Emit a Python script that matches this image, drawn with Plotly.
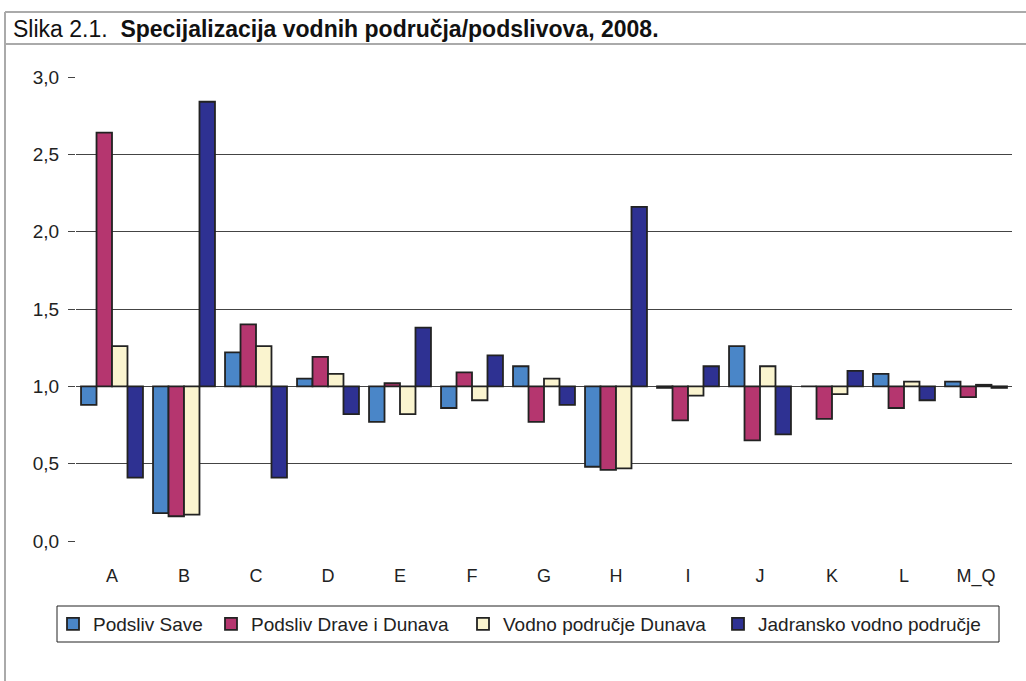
import plotly.graph_objects as go

# categories (NKD sections) and specialisation index per basin
categories = ["A", "B", "C", "D", "E", "F", "G", "H", "I", "J", "K", "L", "M_Q"]
series_names = ["Podsliv Save", "Podsliv Drave i Dunava", "Vodno područje Dunava", "Jadransko vodno područje"]

sava = [0.88, 0.18, 1.22, 1.05, 0.77, 0.86, 1.13, 0.48, 0.99, 1.26, 1.00, 1.08, 1.03]
drava = [2.64, 0.16, 1.40, 1.19, 1.02, 1.09, 0.77, 0.46, 0.78, 0.65, 0.79, 0.86, 0.93]
dunav = [1.26, 0.17, 1.26, 1.08, 0.82, 0.91, 1.05, 0.47, 0.94, 1.13, 0.95, 1.03, 1.01]
jadran = [0.41, 2.84, 0.41, 0.82, 1.38, 1.20, 0.88, 2.16, 1.13, 0.69, 1.10, 0.91, 0.99]

colors = ["#4A86C8", "#B5366F", "#FAF4CF", "#2E3192"]
BASE = 1.0

W, H = 1026, 681
L, R, T, B = 76, 14, 77, 140
PW, PH = W - L - R, H - T - B


def px(x):
    return (x - L) / PW


def py(y):
    return (H - B - y) / PH


font = "Liberation Sans, Arial, sans-serif"

# one legend per series so entries sit where they do in the original
legend_text_x = [95, 253, 505, 760]
legend_keys = ["legend", "legend2", "legend3", "legend4"]

fig = go.Figure()
for name, vals, col, lg in zip(series_names, [sava, drava, dunav, jadran], colors, legend_keys):
    fig.add_trace(go.Bar(
        x=categories, y=[v - BASE for v in vals], base=BASE, name=name, legend=lg,
        marker=dict(color=col, line=dict(color="#222222", width=1.8)),
    ))

legends = {}
for lg, tx in zip(legend_keys, legend_text_x):
    legends[lg] = dict(
        orientation="h", x=px(tx - 42), xanchor="left", y=py(624), yanchor="middle",
        borderwidth=0, bgcolor="rgba(0,0,0,0)", font=dict(size=19, color="#222222"),
        itemwidth=30,
    )

# frame around the figure and legend box
frame = dict(type="line", xref="paper", yref="paper", line=dict(color="#AAAAAA", width=2))
shapes = [
    dict(frame, x0=px(5), x1=px(5), y0=py(12), y1=py(H + 5)),
    dict(frame, x0=px(5), x1=px(W + 5), y0=py(12), y1=py(12)),
    dict(frame, x0=px(5), x1=px(W + 5), y0=py(44), y1=py(44)),
    dict(type="rect", xref="paper", yref="paper", x0=px(57), x1=px(999), y0=py(606), y1=py(642),
         line=dict(color="#222222", width=1), fillcolor="rgba(0,0,0,0)"),
]

fig.update_layout(
    width=W, height=H,
    margin=dict(l=L, r=R, t=T, b=B),
    paper_bgcolor="white", plot_bgcolor="white",
    separators=",.",
    barmode="group", bargap=0.14, bargroupgap=0,
    font=dict(family=font, size=18, color="#222222"),
    showlegend=True,
    xaxis=dict(
        type="category", categoryorder="array", categoryarray=categories,
        showline=False, showgrid=False, ticks="", tickfont=dict(size=18),
        ticklabelstandoff=22,
    ),
    xaxis2=dict(
        overlaying="x", anchor="free", position=BASE / 3,
        range=[-0.5, len(categories) - 0.5], showgrid=False, showline=True,
        linecolor="#888888", linewidth=1, ticks="outside", ticklen=5,
        tickcolor="#555555", tickvals=[i - 0.5 for i in range(len(categories) + 1)],
        showticklabels=False, zeroline=False,
    ),
    yaxis=dict(
        range=[0, 3], dtick=0.5, tickformat=".1f", showgrid=True,
        gridcolor="#444444", gridwidth=1, ticks="outside", ticklen=7,
        tickcolor="#444444", zeroline=False, showline=False,
        tickfont=dict(size=19), ticklabelstandoff=5,
    ),
    shapes=shapes,
    annotations=[dict(
        xref="paper", yref="paper", x=px(11), y=py(29), xanchor="left", yanchor="middle",
        text="Slika 2.1.  <b>Specijalizacija vodnih područja/podslivova, 2008.</b>",
        showarrow=False, font=dict(size=23, color="#111111"),
    )],
    **legends,
)

fig.write_html("out.html", config={"displayModeBar": False},
               post_script="document.body.style.margin='0';")
